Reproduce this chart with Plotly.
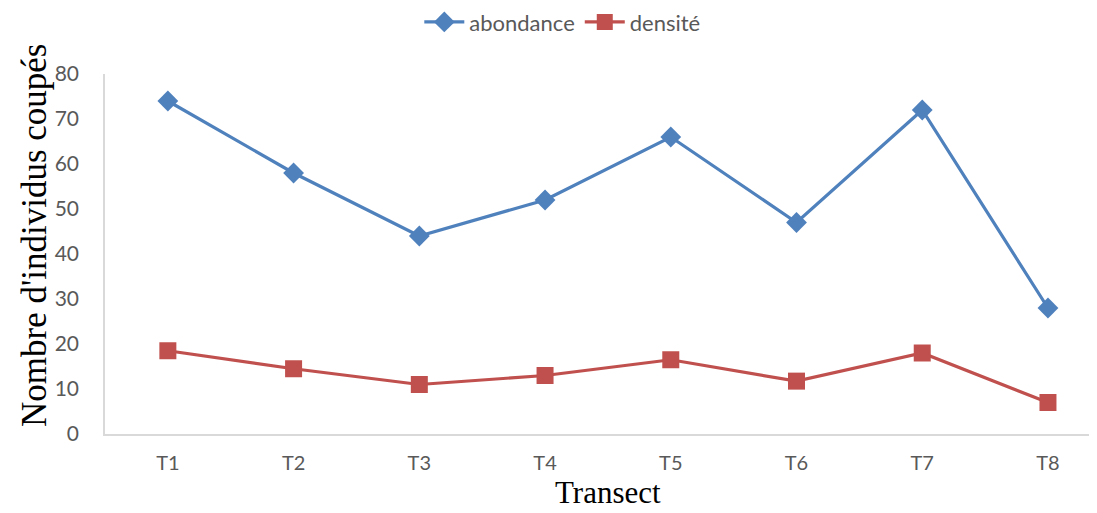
import plotly.graph_objects as go

transects = ["T1", "T2", "T3", "T4", "T5", "T6", "T7", "T8"]
abondance = [74, 58, 44, 52, 66, 47, 72, 28]
densite = [18.5, 14.5, 11, 13, 16.5, 11.75, 18, 7]

x_title = "Transect"
y_title = "Nombre d'individus coupés"

blue = "#4F81BD"
red = "#C0504D"
x_idx = list(range(len(transects)))

fig = go.Figure()
fig.add_trace(go.Scatter(
    x=x_idx, y=abondance, name="abondance", mode="lines+markers",
    line=dict(color=blue, width=3.2),
    marker=dict(symbol="diamond", size=16, color=blue),
))
fig.add_trace(go.Scatter(
    x=x_idx, y=densite, name="densité", mode="lines+markers",
    line=dict(color=red, width=3.2),
    marker=dict(symbol="square", size=17, color=red),
))

fig.update_layout(
    width=1089, height=505,
    margin=dict(l=97, r=0, t=66, b=79),
    paper_bgcolor="white", plot_bgcolor="white",
    showlegend=True,
    legend=dict(
        orientation="h", xref="container", yref="container",
        x=0.509, xanchor="center", y=0.972, yanchor="middle",
        font=dict(family="Lato", size=22, color="#595959"),
        itemwidth=40, tracegroupgap=10,
    ),
    xaxis=dict(
        tickmode="array", tickvals=x_idx, ticktext=transects,
        range=[-0.5, 7.39],
        showgrid=False, zeroline=False, automargin=False,
        showline=True, linecolor="#D9D9D9", linewidth=1.5,
        ticks="", ticklabelstandoff=10,
        tickfont=dict(family="Lato", size=20, color="#595959"),
    ),
    yaxis=dict(
        range=[0, 80], dtick=10,
        showgrid=False, zeroline=False, automargin=False,
        showline=True, linecolor="#D9D9D9", linewidth=1.5,
        ticks="", ticklabelstandoff=20,
        tickfont=dict(family="Lato", size=21, color="#595959"),
    ),
)

fig.add_annotation(
    text=x_title, xref="paper", yref="paper", x=0.507, y=0,
    xanchor="center", yanchor="middle", yshift=-58, showarrow=False,
    font=dict(family="Liberation Serif", size=31, color="black"),
)
fig.add_annotation(
    text=y_title, xref="paper", yref="paper", x=0, y=0.55,
    xanchor="center", yanchor="middle", xshift=-70, showarrow=False,
    textangle=-90,
    font=dict(family="Liberation Serif", size=35, color="black"),
)

fig.write_html("out.html")
